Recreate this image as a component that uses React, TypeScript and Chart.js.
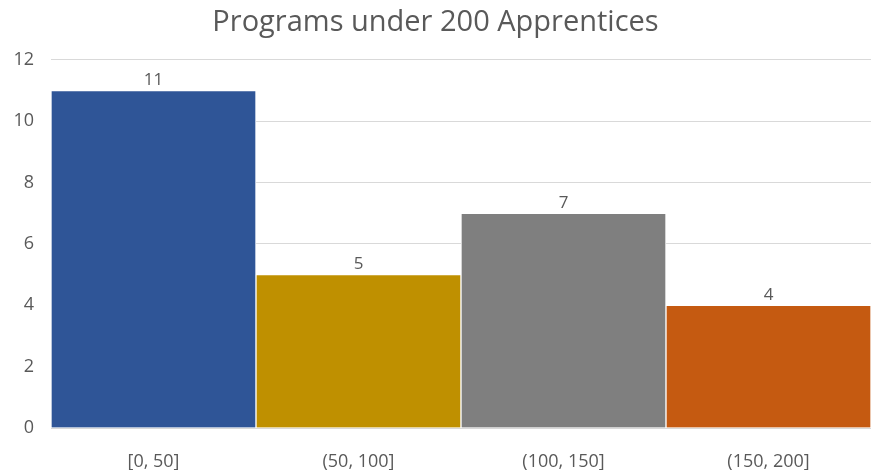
import React, { useEffect, useRef } from "react";
import { Chart, registerables } from "chart.js";

Chart.register(...registerables);

const categories = ["[0, 50]", "(50, 100]", "(100, 150]", "(150, 200]"];
const counts = [11, 5, 7, 4];
const barColors = ["#2F5597", "#BF9000", "#7F7F7F", "#C55A11"];
const yTicks = [0, 2, 4, 6, 8, 10, 12];
const titleText = "Programs under 200 Apprentices";

const FONT = "'Open Sans', 'Noto Sans', sans-serif";
const TEXT = "#595959";

const valueLabels = {
  id: "valueLabels",
  afterDatasetsDraw(chart: any) {
    const ctx = chart.ctx;
    const meta = chart.getDatasetMeta(0);
    ctx.save();
    ctx.fillStyle = TEXT;
    ctx.font = `17px ${FONT}`;
    ctx.textAlign = "center";
    ctx.textBaseline = "bottom";
    meta.data.forEach((el: any, i: number) => {
      ctx.fillText(String(counts[i]), el.x, el.y - 2);
    });
    ctx.restore();
  },
};

export default function App() {
  const ref = useRef<HTMLCanvasElement | null>(null);
  useEffect(() => {
    if (!ref.current) return;
    const chart = new Chart(ref.current, {
      type: "bar",
      data: {
        labels: categories,
        datasets: [
          {
            data: counts,
            backgroundColor: barColors,
            borderColor: "#FFFFFF",
            borderWidth: 1,
            categoryPercentage: 1,
            barPercentage: 1,
          },
        ],
      },
      plugins: [valueLabels],
      options: {
        animation: false,
        responsive: false,
        layout: { padding: { left: 0, right: 0, top: 0, bottom: 0 } },
        plugins: {
          legend: { display: false },
          tooltip: { enabled: false },
          title: {
            display: true,
            text: titleText,
            color: TEXT,
            font: { family: FONT, size: 29, weight: "normal" },
            padding: { top: 5, bottom: 20 },
          },
        },
        scales: {
          x: {
            grid: { display: false },
            border: { color: "#D9D9D9", width: 1 },
            ticks: {
              color: TEXT,
              font: { family: FONT, size: 18 },
              padding: 15,
            },
            afterFit(scale: any) {
              scale.height = 42;
            },
          },
          y: {
            min: 0,
            max: 12,
            afterBuildTicks(scale: any) {
              scale.ticks = yTicks.map((v) => ({ value: v }));
            },
            grid: { color: "#D9D9D9", drawTicks: false },
            border: { display: false },
            ticks: {
              color: TEXT,
              font: { family: FONT, size: 18 },
              padding: 17,
            },
            afterFit(scale: any) {
              scale.width = 51;
            },
          },
        },
      },
    });
    return () => chart.destroy();
  }, []);
  return (
    <div style={{ position: "absolute", left: 0, top: 0, width: 871, height: 470, background: "#fff" }}>
      <canvas ref={ref} width={871} height={470} style={{ width: 871, height: 470 }} />
    </div>
  );
}
